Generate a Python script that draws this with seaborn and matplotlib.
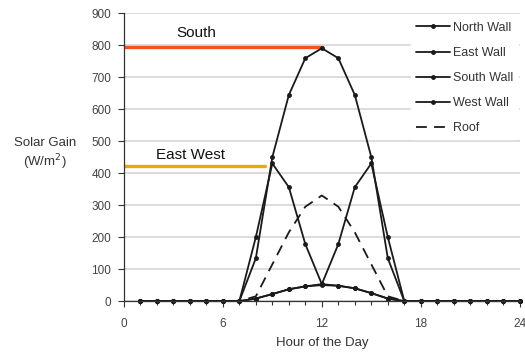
import matplotlib
matplotlib.use("Agg")
import matplotlib.pyplot as plt
import seaborn as sns
import pandas as pd
import numpy as np

sns.set_theme(style="white")
plt.rcParams['font.family'] = ['Liberation Sans', 'DejaVu Sans']

# hourly solar gain values (W/m2)
hours = list(range(1, 25))
north_wall = [0, 0, 0, 0, 0, 0, 0, 8, 22, 37, 46, 50, 48, 40, 25, 8, 0, 0, 0, 0, 0, 0, 0, 0]
east_wall = [0, 0, 0, 0, 0, 0, 0, 200, 430, 356, 178, 53, 48, 40, 25, 8, 0, 0, 0, 0, 0, 0, 0, 0]
south_wall = [0, 0, 0, 0, 0, 0, 0, 134, 450, 644, 759, 790, 759, 644, 450, 134, 0, 0, 0, 0, 0, 0, 0, 0]
west_wall = [0, 0, 0, 0, 0, 0, 0, 8, 22, 37, 46, 53, 178, 356, 430, 200, 0, 0, 0, 0, 0, 0, 0, 0]
roof = [0, 0, 0, 0, 0, 0, 0, 15, 115, 215, 295, 330, 295, 215, 115, 15, 0, 0, 0, 0, 0, 0, 0, 0]

series_names = ["North Wall", "East Wall", "South Wall", "West Wall", "Roof"]
series_values = [north_wall, east_wall, south_wall, west_wall, roof]

df = pd.DataFrame({
    "Hour": hours * len(series_names),
    "Gain": sum(series_values, []),
    "Surface": np.repeat(series_names, len(hours)),
})

fig = plt.figure(figsize=(5.25, 3.53), dpi=100)
ax = fig.add_axes([0.236, 0.147, 0.754, 0.816])

# horizontal grid
ax.set_axisbelow(True)
ax.yaxis.grid(True, color="#d9d9d9", linewidth=1.3)

line_col = "#1a1a1a"
for name in series_names:
    sub = df[df["Surface"] == name]
    if name == "Roof":
        sns.lineplot(data=sub, x="Hour", y="Gain", ax=ax, color=line_col, linewidth=1.3,
                     linestyle=(0, (6, 4)), label=name, clip_on=False)
    else:
        sns.lineplot(data=sub, x="Hour", y="Gain", ax=ax, color=line_col, linewidth=1.3,
                     marker="o", markersize=3.5, markeredgewidth=0, label=name, clip_on=False)

# annotation lines for peak gains
south_peak = max(south_wall)
south_hour = hours[south_wall.index(south_peak)]
ax.plot([0, south_hour], [south_peak + 5, south_peak + 5], color="#f2541b", linewidth=2.4, zorder=1)
ax.text(4.4, 837, "South", fontsize=11, ha="center", va="center", color="#111111")

ew_peak = max(east_wall)
ew_hour = hours[east_wall.index(ew_peak)]
ax.plot([0, ew_hour - 0.45], [ew_peak - 8, ew_peak - 8], color="#f5a500", linewidth=2.4, zorder=1)
ax.text(4.05, 456, "East West", fontsize=11, ha="center", va="center", color="#111111")

ax.set_xlim(0, 24)
ax.set_ylim(0, 900)
ax.set_xticks([0, 6, 12, 18, 24])
ax.set_xticks(range(0, 25), minor=True)
ax.set_yticks(range(0, 901, 100))
ax.tick_params(axis="both", which="major", labelsize=8.5, colors="#333333", length=4, width=0.8,
               direction="out", left=True, bottom=True, pad=5)
ax.tick_params(axis="x", which="minor", length=3, width=0.8, direction="out", bottom=True, colors="#333333")
ax.tick_params(axis="x", which="major", pad=8)
for lab in ax.get_xticklabels() + ax.get_yticklabels():
    lab.set_color("#444444")

for side in ["top", "right"]:
    ax.spines[side].set_visible(False)
for side in ["left", "bottom"]:
    ax.spines[side].set_color("#333333")
    ax.spines[side].set_linewidth(0.9)

ax.set_xlabel("Hour of the Day", fontsize=9.5, color="#333333", labelpad=5)
ax.set_ylabel("")
fig.text(0.086, 0.562, "Solar Gain\n(W/m$^2$)", fontsize=9.5, color="#333333",
         ha="center", va="center", linespacing=1.3)

leg = ax.legend(loc="upper right", bbox_to_anchor=(1.005, 1.0), frameon=True, fontsize=9,
                handlelength=2.7, handletextpad=0.2, labelspacing=1.05, borderaxespad=0.3,
                numpoints=1, labelcolor="#333333")
leg.get_frame().set_facecolor("white")
leg.get_frame().set_edgecolor("white")
leg.get_frame().set_alpha(1.0)

fig.savefig("out.png", dpi=100)
